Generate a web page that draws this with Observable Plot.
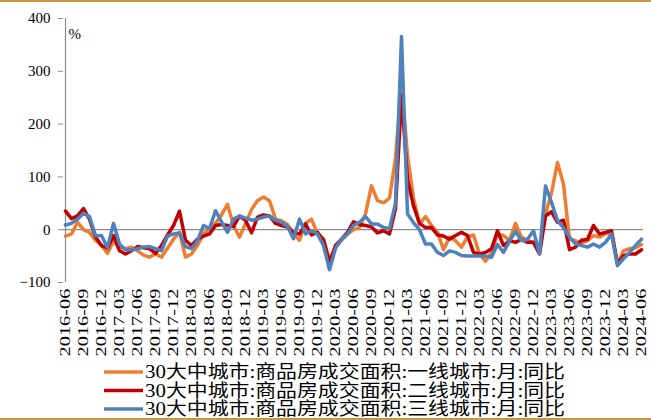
<!DOCTYPE html>
<html><head><meta charset="utf-8">
<script src="https://cdn.jsdelivr.net/npm/d3@7"></script>
<script src="https://cdn.jsdelivr.net/npm/@observablehq/plot@0.6"></script>
<style>
body{margin:0;background:#fff;}
#wrap{position:relative;width:651px;height:420px;overflow:hidden;background:#fff;}
#chart,#legend{display:block;line-height:0;}
.bar{position:absolute;left:0;width:651px;height:2px;background:#c99542;}
</style></head><body>
<div id="wrap"><div class="bar" style="top:0"></div><div id="chart"></div><div id="legend"></div><div class="bar" style="top:418px"></div></div>
<script>
// months 2016-06 .. 2024-06
const startYear = 2016, startMonth = 6, monthCount = 97;
const months = [];
for (let k = 0; k < monthCount; k++) {
  const t = startMonth - 1 + k;
  months.push(`${startYear + Math.floor(t / 12)}-${String(t % 12 + 1).padStart(2, "0")}`);
}
const tickLabels = ["2016-06","2016-09","2016-12","2017-03","2017-06","2017-09","2017-12","2018-03","2018-06","2018-09","2018-12","2019-03","2019-06","2019-09","2019-12","2020-03","2020-06","2020-09","2020-12","2021-03","2021-06","2021-09","2021-12","2022-03","2022-06","2022-09","2022-12","2023-03","2023-06","2023-09","2023-12","2024-03","2024-06"];
const yTicks = [-100, 0, 100, 200, 300, 400];

const seriesNames = [
  "30大中城市:商品房成交面积:一线城市:月:同比",
  "30大中城市:商品房成交面积:二线城市:月:同比",
  "30大中城市:商品房成交面积:三线城市:月:同比"
];
const seriesColors = ["#ED7D31", "#C00000", "#4F81BD"];

const tier1 = [
  -12, -8, 14, 0, -5, -20, -30, -45, -22, -33, -36, -33,
  -40, -48, -52, -46, -52, -35, -18, -5, -52, -46, -30, -8,
  2, 12, 28, 48, 8, -14, 12, 38, 55, 62, 55, 20,
  17, 10, -8, -20, 12, 20, -8, -17, -58, -33, -20, -8,
  0, 4, 30, 83, 55, 51, 60, 136, 280, 140, 60, 10,
  25, 8, -5, -38, -14, -21, -33, -14, -10, -46, -60, -43,
  -8, -11, -20, 12, -14, -21, -24, -40, 30, 70, 127, 86,
  -18, -21, -25, -21, -11, -14, -8, -5, -65, -40, -36, -34,
  -28
];
const tier2 = [
  35, 21, 26, 40, 20, -14, -30, -35, -11, -40, -46, -40,
  -32, -34, -36, -45, -30, -10, 8, 35, -20, -30, -18, -12,
  -8, 8, 10, 8, 6, 26, 18, -6, 24, 28, 26, 12,
  8, 5, -6, -8, 11, -10, -5, -20, -62, -30, -18, -5,
  15, 10, 8, 5, -6, -2, -8, 40, 255, 95, 45, 12,
  4, 4, -10, -12, -18, -11, -5, -11, -43, -46, -43, -36,
  -2, -30, -21, -24, -18, -24, -24, -46, 26, 34, 14, 18,
  -38, -33, -20, -18, 8, -8, -5, -2, -65, -49, -46, -46,
  -38
];
const tier3 = [
  9, 12, 20, 31, 25, -12, -11, -34, 12, -27, -38, -38,
  -36, -33, -32, -36, -40, -12, -8, -6, -32, -36, -21, 8,
  2, 36, 15, -5, 20, 26, 22, 18, 20, 24, 26, 18,
  14, 6, -17, 20, -8, -2, -8, -30, -76, -35, -18, -8,
  8, 14, 25, 11, 11, 4, 2, 50, 366, 30, 13, 0,
  -27, -27, -43, -49, -40, -43, -49, -50, -50, -50, -50, -52,
  -28, -43, -22, -3, -21, -18, -2, -45, 83, 52, 17, 4,
  -14, -27, -30, -33, -27, -33, -24, -8, -68, -55, -43, -30,
  -18
];

const seriesValues = [tier1, tier2, tier3];
const rows = [];
seriesValues.forEach((vals, s) => vals.forEach((v, i) => rows.push({series: seriesNames[s], month: months[i], value: v})));

const chart = Plot.plot({
  width: 651, height: 362,
  marginLeft: 63, marginRight: 8, marginTop: 18, marginBottom: 80,
  style: {fontFamily: "'Liberation Serif','Times New Roman',serif", fontSize: "15px", color: "#000", background: "transparent"},
  x: {type: "point", domain: months, padding: 0, ticks: tickLabels, tickRotate: -90, tickSize: 0, tickPadding: 6, label: null},
  y: {domain: [-100, 400], ticks: yTicks, tickSize: 5, tickPadding: 8, label: null},
  color: {domain: seriesNames, range: seriesColors},
  marks: [
    Plot.ruleY([0], {stroke: "#8c8c8c", strokeWidth: 1.3}),
    Plot.ruleX([months[0]], {y1: yTicks[0], y2: yTicks[yTicks.length - 1], stroke: "#8c8c8c", strokeWidth: 1.2}),
    Plot.line(rows, {x: "month", y: "value", z: "series", stroke: "series", strokeWidth: 3.5, strokeLinejoin: "round", strokeLinecap: "round"}),
    Plot.text(["%"], {frameAnchor: "top-left", dx: 5, dy: 10, fontSize: 15})
  ]
});

d3.select(chart).selectAll("text")
  .filter(function () { return /^\d{4}-\d{2}$/.test(this.textContent); })
  .attr("textLength", 68).attr("lengthAdjust", "spacingAndGlyphs")
  .style("font-size", "15px");
d3.select(chart).selectAll("g[aria-label='y-axis tick'] path, g[aria-label='y-axis tick'] line").attr("stroke", "#8c8c8c");

document.getElementById("chart").appendChild(chart);

const lg = d3.create("svg").attr("width", 651).attr("height", 56);
seriesNames.forEach((name, k) => {
  const cy = 10 + 18.5 * k;
  lg.append("line").attr("x1", 104).attr("x2", 143).attr("y1", cy).attr("y2", cy)
    .attr("stroke", seriesColors[k]).attr("stroke-width", 3.5);
  lg.append("text").attr("x", 145).attr("y", cy).attr("dy", "0.36em")
    .attr("textLength", 420).attr("lengthAdjust", "spacingAndGlyphs")
    .style("font-family", "'Liberation Serif','Noto Sans CJK SC',serif").style("font-size", "18px")
    .attr("fill", "#000").text(name);
});
document.getElementById("legend").appendChild(lg.node());
</script>
</body></html>
